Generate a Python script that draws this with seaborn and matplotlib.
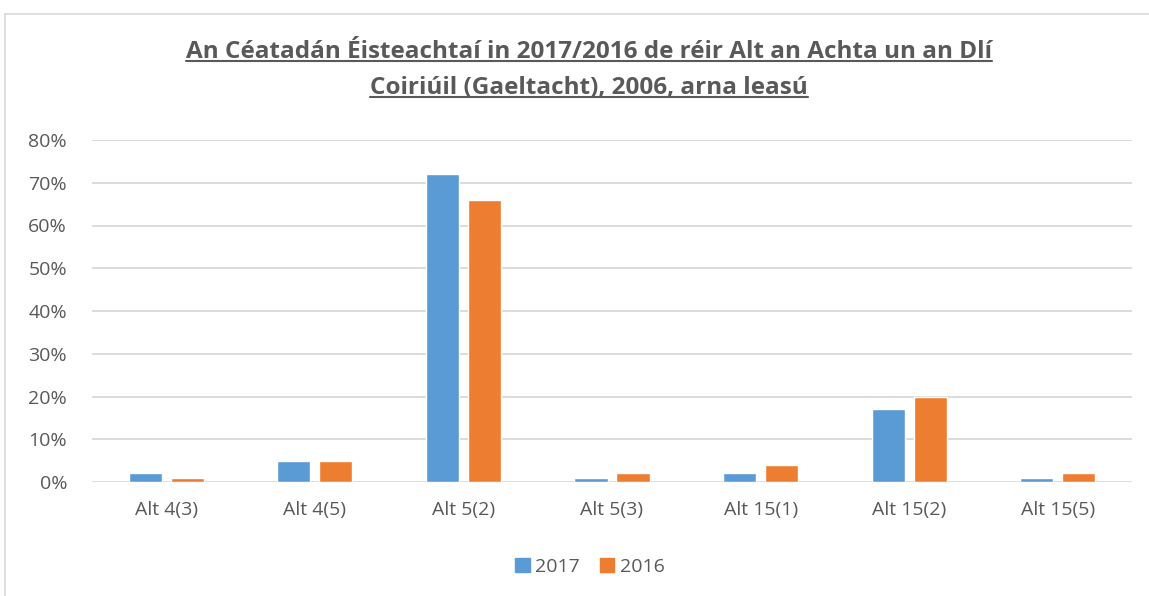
import matplotlib
matplotlib.use('Agg')
import matplotlib.pyplot as plt
import pandas as pd
import seaborn as sns
from matplotlib.lines import Line2D
from matplotlib.patches import Rectangle

sns.set_style('white')
plt.rcParams['font.family'] = ['Open Sans', 'DejaVu Sans']

categories = ['Alt 4(3)', 'Alt 4(5)', 'Alt 5(2)', 'Alt 5(3)', 'Alt 15(1)', 'Alt 15(2)', 'Alt 15(5)']
years = ['2017', '2016']
vals_2017 = [2, 5, 72, 1, 2, 17, 1]
vals_2016 = [1, 5, 66, 2, 4, 20, 2]
yticks = [0, 10, 20, 30, 40, 50, 60, 70, 80]
title_lines = ['An Céatadán Éisteachtaí in 2017/2016 de réir Alt an Achta un an Dlí',
               'Coiriúil (Gaeltacht), 2006, arna leasú']

df = pd.DataFrame({
    'alt': categories * 2,
    'year': [years[0]] * len(categories) + [years[1]] * len(categories),
    'pct': vals_2017 + vals_2016,
})

grey = '#595959'
colors = ['#5B9BD5', '#ED7D31']
W, H = 1149, 596
fig = plt.figure(figsize=(W / 100, H / 100), dpi=100)
ax = fig.add_axes([92 / W, 1 - 482 / H, 1040 / W, 342 / H])

# chart frame (light border around the chart area)
fig.patches.append(Rectangle((5 / W, -0.1), 1.2, 1 - 14 / H + 0.1, transform=fig.transFigure,
                             fill=False, edgecolor='#d9d9d9', linewidth=1.2))

sns.barplot(data=df, x='alt', y='pct', hue='year', palette=colors, saturation=1,
            width=0.566, gap=0.21, ax=ax, legend=False)

ax.set_ylim(0, 80)
ax.set_yticks(yticks)
ax.set_yticklabels([f'{v}%' for v in yticks])
ax.set_xlim(-0.5, len(categories) - 0.5)
ax.yaxis.grid(True, color='#d9d9d9', linewidth=1.3)
ax.set_axisbelow(True)
for s in ax.spines.values():
    s.set_visible(False)
ax.tick_params(axis='both', length=0, labelsize=14, colors=grey)
ax.tick_params(axis='x', pad=14)
ax.tick_params(axis='y', pad=18)
ax.set_xlabel('')
ax.set_ylabel('')

# title, underlined line by line
cx = 589 / W
tts = []
for ln, yc in zip(title_lines, [52, 88]):
    tts.append(fig.text(cx, 1 - yc / H, ln, ha='center', va='center', fontsize=17.5,
                        fontweight='bold', color=grey))
fig.canvas.draw()
r = fig.canvas.get_renderer()
for t in tts:
    bb = t.get_window_extent(r)
    y = (bb.y0 + 3) / H
    fig.lines.append(Line2D([bb.x0 / W, bb.x1 / W], [y, y], transform=fig.transFigure,
                            color=grey, linewidth=1.5))

handles = [Rectangle((0, 0), 1, 1, color=c) for c in colors]
fig.legend(handles, years, loc='center', bbox_to_anchor=(590 / W, 1 - 567 / H), ncol=2,
           frameon=False, fontsize=14, labelcolor=grey, handlelength=0.75, handleheight=0.75,
           handletextpad=0.3, columnspacing=1.0)

fig.savefig('out.png', dpi=100)
